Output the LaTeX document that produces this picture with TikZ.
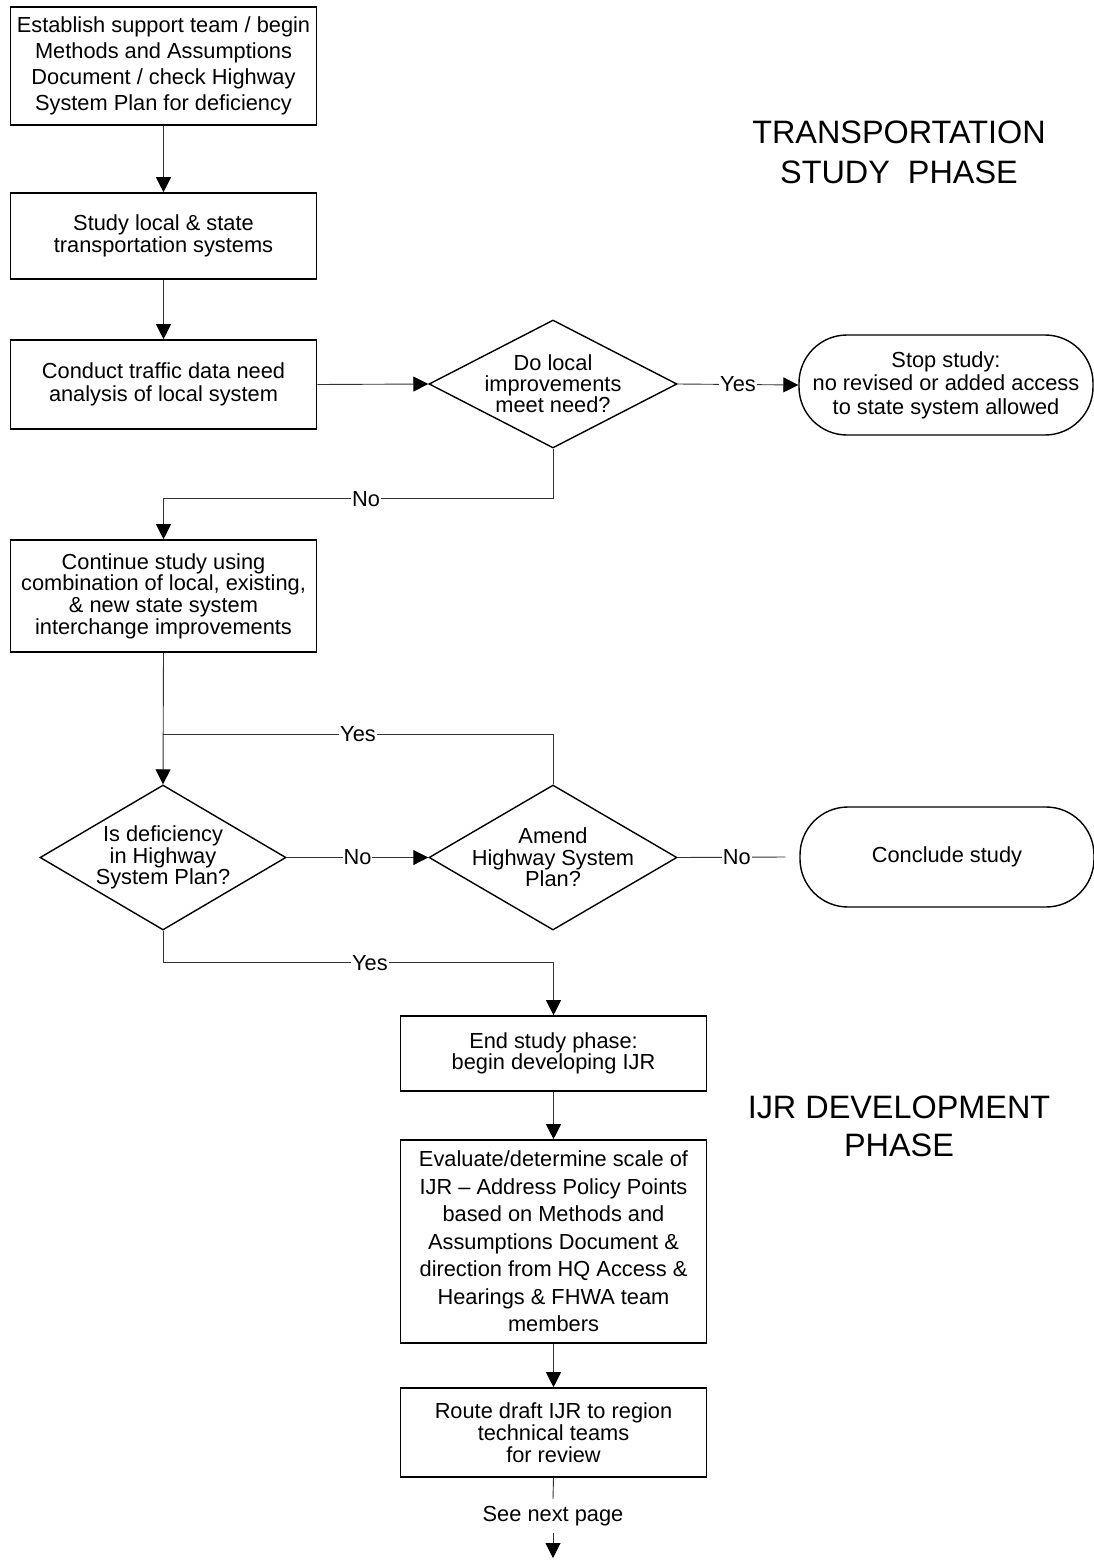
\documentclass[tikz,border=0pt]{standalone}
\usepackage{fontspec}
\setmainfont{Liberation Sans}
\usetikzlibrary{arrows.meta,shapes.geometric,calc}
\newcommand\fsz[1]{\fontsize{21.8}{#1}\selectfont}
\begin{document}
\begin{tikzpicture}[x=1pt,y=-1pt,
  box/.style={draw=black,line width=1.6pt,rectangle,inner sep=0pt,align=center,minimum width=306},
  dia/.style={draw=black,line width=1.4pt,diamond,inner sep=0pt},
  term/.style={draw=black,line width=1.4pt,rectangle,rounded corners=48,inner sep=0pt,align=center,minimum width=294,minimum height=100},
  conn/.style={draw=black!80,line width=0.9pt},
  arr/.style={conn,-{Triangle[length=15,width=15,color=black]}},
  lbl/.style={fill=white,inner sep=1pt,font=\fsz{22}},
  head/.style={align=center,inner sep=0pt}
]
\useasboundingbox (0,0) rectangle (1094,1560);

% boxes
\node[box,minimum height=118,font=\fsz{26}] (b1) at (163.5,66) {Establish support team / begin\\Methods and Assumptions\\Document / check Highway\\System Plan for deficiency};
\node[box,minimum height=86,font=\fsz{22}] (b2) at (163.5,236) {Study local \& state\\transportation systems};
\node[box,minimum height=89,font=\fsz{23}] (b3) at (163.5,384.5) {Conduct traffic data need\\analysis of local system};
\node[box,minimum height=112,font=\fsz{21.7}] (b4) at (163.5,596) {Continue study using\\combination of local, existing,\\\& new state system\\interchange improvements};
\node[box,minimum height=75,font=\fsz{21}] (b5) at (553.5,1053.5) {End study phase:\\begin developing IJR};
\node[box,minimum height=203,font=\fsz{27.5}] (b6) at (553.5,1241.5) {Evaluate/determine scale of\\IJR -- Address Policy Points\\based on Methods and\\Assumptions Document \&\\direction from HQ Access \&\\Hearings \& FHWA team\\members};
\node[box,minimum height=89,font=\fsz{22}] (b7) at (553.5,1432.5) {Route draft IJR to region\\technical teams\\for review};

% decisions
\node[dia,minimum width=248,minimum height=128,label={[align=center,font=\fsz{21}]center:Do local\\improvements\\meet need?}] (d1) at (553,384) {};
\node[dia,minimum width=246,minimum height=145,label={[align=center,font=\fsz{21.5}]center:Is deficiency\\in Highway\\System Plan?}] (d2) at (163,857.5) {};
\node[dia,minimum width=248,minimum height=145,label={[align=center,font=\fsz{21.5}]center:Amend\\Highway System\\Plan?}] (d3) at (553,857.5) {};

% terminals
\node[term,font=\fsz{23.5}] (t1) at (946,385) {Stop study:\\no revised or added access\\to state system allowed};
\node[term,font=\fsz{22}] (t2) at (947,857) {Conclude study};

% headings
\node[head,font={\fontsize{32.4}{40}\selectfont}] (h1) at (899,152) {TRANSPORTATION\\STUDY\ \ PHASE};
\node[head,font={\fontsize{32.4}{38}\selectfont}] (h2) at (899,1126) {IJR DEVELOPMENT\\PHASE};

% connectors
\draw[arr] (b1.south) -- (b2.north);
\draw[arr] (b2.south) -- (b3.north);
\draw[arr] (b3.east) -- (d1.west);
\draw[arr] (d1.east) -- node[lbl]{Yes} (t1.west);
\draw[arr] (d1.south) -- ++(0,50) -| node[lbl,pos=0.24]{No} (b4.north);
\draw[arr] (b4.south) -- (d2.north);
\draw[conn] (d3.north) -- ++(0,-50) coordinate (yj) -- node[lbl,pos=0.5]{Yes} (yj -| d2.north);
\draw[arr] (d2.east) -- node[lbl]{No} (d3.west);
\coordinate (cend) at ($(t2.west)+(-14,0)$);
\draw[conn] (d3.east) -- node[lbl,pos=0.55]{No} (cend);
\draw[arr] (d2.south) -- ++(0,32) -| node[lbl,pos=0.265]{Yes} (b5.north);
\draw[arr] (b5.south) -- (b6.north);
\draw[arr] (b6.south) -- (b7.north);
\node[font=\fsz{22},inner sep=0pt,minimum height=34] (snp) at (553,1516) {See next page};
\coordinate (pend) at (553,1558);
\draw[conn] (b7.south) -- (snp.north);
\draw[arr] (snp.south) -- (pend);
\end{tikzpicture}
\end{document}
